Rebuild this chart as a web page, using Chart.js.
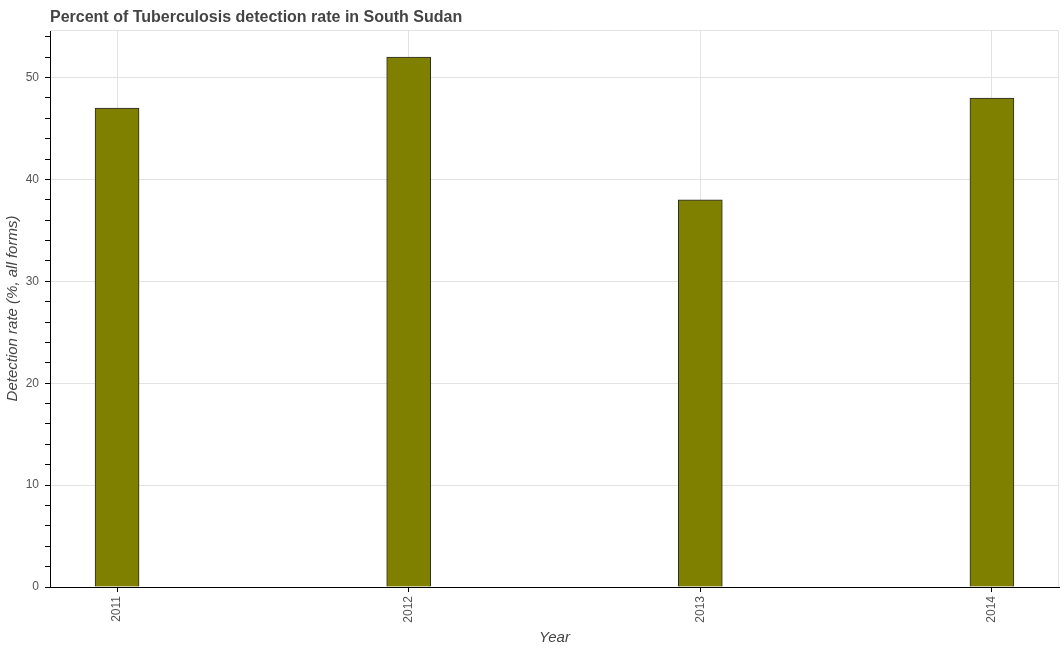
<!DOCTYPE html>
<html>
<head>
<meta charset="utf-8">
<script src="https://cdn.jsdelivr.net/npm/chart.js@4/dist/chart.umd.min.js"></script>
<style>
  html, body { margin: 0; padding: 0; background: #fff; }
  #wrap { width: 1064px; height: 650px; }
</style>
</head>
<body>
<div id="wrap"><canvas id="chart"></canvas></div>
<script>
// --- data ---
const years = [2011, 2012, 2013, 2014];
const detectionRate = [47, 52, 38, 48];
const yTickLabels = [0, 10, 20, 30, 40, 50];

const chartTitle = 'Percent of Tuberculosis detection rate in South Sudan';
const xTitle = 'Year';
const yTitle = 'Detection rate (%, all forms)';

const points = years.map((y, i) => ({ x: y, y: detectionRate[i] }));

// title left-aligned on the plot area, plus light frame on top/right
const framePlugin = {
    id: 'frame',
    beforeDatasetsDraw(chart) {
        const { ctx, chartArea } = chart;
        ctx.save();
        ctx.strokeStyle = '#e3e3e3';
        ctx.lineWidth = 1;
        ctx.beginPath();
        ctx.moveTo(chartArea.left, chartArea.top + 0.5);
        ctx.lineTo(chartArea.right - 0.5, chartArea.top + 0.5);
        ctx.lineTo(chartArea.right - 0.5, chartArea.bottom);
        ctx.stroke();
        ctx.restore();
    },
    afterDraw(chart) {
        const { ctx, chartArea } = chart;
        ctx.save();
        ctx.font = 'bold 16px "Liberation Sans", Arial, sans-serif';
        ctx.fillStyle = '#444';
        ctx.textBaseline = 'middle';
        ctx.textAlign = 'left';
        ctx.fillText(chartTitle, chartArea.left, 18);
        ctx.restore();
    }
};

new Chart(document.getElementById('chart'), {
    type: 'bar',
    data: {
        datasets: [{
            data: points,
            backgroundColor: '#808000',
            borderColor: '#2b2b2b',
            borderWidth: 1,
            barThickness: 44
        }]
    },
    options: {
        responsive: true,
        maintainAspectRatio: false,
        animation: false,
        layout: { padding: { top: 30, right: 5, left: 0, bottom: 0 } },
        plugins: {
            legend: { display: false },
            tooltip: { enabled: false }
        },
        scales: {
            x: {
                type: 'linear',
                offset: false,
                min: 2010.77,
                max: 2014.23,
                afterBuildTicks: s => { s.ticks = years.map(v => ({ value: v })); },
                afterFit: s => { s.height = 63; },
                border: { color: '#000', width: 1 },
                grid: { offset: false, color: '#e3e3e3', tickColor: '#000', tickLength: 5 },
                ticks: {
                    minRotation: 90,
                    maxRotation: 90,
                    padding: 4,
                    color: '#555',
                    font: { family: '"Liberation Sans", Arial, sans-serif', size: 12 },
                    callback: v => String(v)
                },
                title: {
                    display: true,
                    text: xTitle,
                    color: '#444',
                    padding: { top: 0, bottom: 3 },
                    font: { family: '"Liberation Sans", Arial, sans-serif', size: 15, style: 'italic' }
                }
            },
            y: {
                min: 0,
                max: 54.67,
                afterBuildTicks: s => {
                    const t = [];
                    for (let v = 0; v <= 54; v += 2) t.push({ value: v });
                    s.ticks = t;
                },
                afterFit: s => { s.width = 50; },
                border: { color: '#000', width: 1 },
                grid: {
                    color: c => (yTickLabels.includes(c.tick.value) ? '#e3e3e3' : 'rgba(0,0,0,0)'),
                    tickColor: '#000',
                    tickLength: 5
                },
                ticks: {
                    padding: 6,
                    color: '#555',
                    font: { family: '"Liberation Sans", Arial, sans-serif', size: 12 },
                    callback: v => (yTickLabels.includes(v) ? String(v) : '')
                },
                title: {
                    display: true,
                    text: yTitle,
                    color: '#444',
                    padding: { top: 4, bottom: 0 },
                    font: { family: '"Liberation Sans", Arial, sans-serif', size: 15, style: 'italic' }
                }
            }
        }
    },
    plugins: [framePlugin]
});
</script>
</body>
</html>
